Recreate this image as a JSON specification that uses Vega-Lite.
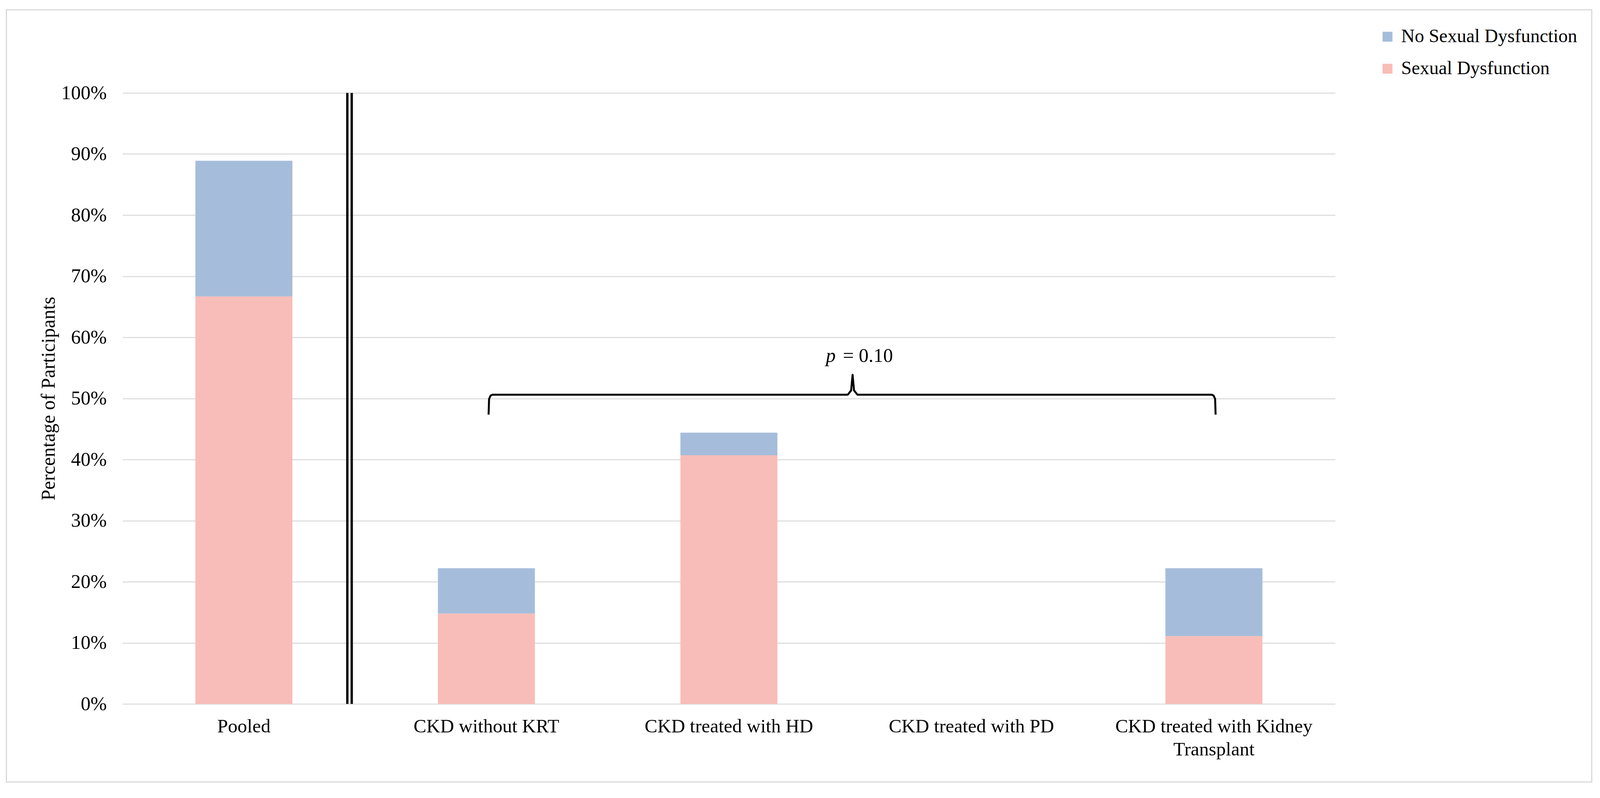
{
  "$schema": "https://vega.github.io/schema/vega-lite/v6.json",
  "width": 3104,
  "height": 1565,
  "autosize": {"type": "none"},
  "padding": {"left": 314, "top": 238, "right": 678, "bottom": 241},
  "background": "white",
  "config": {
    "view": {"stroke": null},
    "font": "Liberation Serif",
    "axis": {"labelFont": "Liberation Serif", "titleFont": "Liberation Serif", "labelColor": "black", "titleColor": "black", "labelLimit": 0},
    "legend": {"labelFont": "Liberation Serif", "labelColor": "black", "labelLimit": 0}
  },
  "datasets": {
    "bars": [
      {"group": "Pooled", "status": "Sexual Dysfunction", "ord": 1, "pct": 66.7},
      {"group": "Pooled", "status": "No Sexual Dysfunction", "ord": 2, "pct": 22.2},
      {"group": "CKD without KRT", "status": "Sexual Dysfunction", "ord": 1, "pct": 14.8},
      {"group": "CKD without KRT", "status": "No Sexual Dysfunction", "ord": 2, "pct": 7.4},
      {"group": "CKD treated with HD", "status": "Sexual Dysfunction", "ord": 1, "pct": 40.7},
      {"group": "CKD treated with HD", "status": "No Sexual Dysfunction", "ord": 2, "pct": 3.7},
      {"group": "CKD treated with PD", "status": "Sexual Dysfunction", "ord": 1, "pct": 0},
      {"group": "CKD treated with PD", "status": "No Sexual Dysfunction", "ord": 2, "pct": 0},
      {"group": "CKD treated with Kidney Transplant", "status": "Sexual Dysfunction", "ord": 1, "pct": 11.1},
      {"group": "CKD treated with Kidney Transplant", "status": "No Sexual Dysfunction", "ord": 2, "pct": 11.1}
    ],
    "frame": [{"fx": -0.4794, "fx2": 6.058, "fy": 113.61, "fy2": -12.78}],
    "divider": [{"pos": 0.9265}, {"pos": 0.9446}],
    "brace": [
      {"i": 1, "bx": 1.509, "by": 47.35},
      {"i": 2, "bx": 1.511, "by": 49.9},
      {"i": 3, "bx": 1.517, "by": 50.45},
      {"i": 4, "bx": 1.525, "by": 50.61},
      {"i": 5, "bx": 2.99, "by": 50.61},
      {"i": 6, "bx": 3.004, "by": 51.3},
      {"i": 7, "bx": 3.010, "by": 53.87},
      {"i": 8, "bx": 3.016, "by": 51.3},
      {"i": 9, "bx": 3.030, "by": 50.61},
      {"i": 10, "bx": 4.491, "by": 50.61},
      {"i": 11, "bx": 4.499, "by": 50.45},
      {"i": 12, "bx": 4.505, "by": 49.9},
      {"i": 13, "bx": 4.507, "by": 47.35}
    ],
    "ptextItalic": [{"tx": 2.900, "ty": 55.97, "txt": "p"}],
    "ptextRoman": [{"tx": 2.970, "ty": 55.97, "txt": "= 0.10"}]
  },
  "layer": [
    {
      "data": {"name": "bars"},
      "mark": {"type": "bar"},
      "encoding": {
        "x": {
          "field": "group", "type": "nominal", "sort": null,
          "scale": {"paddingInner": 0.6, "paddingOuter": 0.3},
          "axis": {
            "title": null, "labelAngle": 0, "labelFontSize": 49, "labelPadding": 33,
            "ticks": false, "domain": false, "labelLineHeight": 59,
            "labelExpr": "datum.value == 'CKD treated with Kidney Transplant' ? ['CKD treated with Kidney', 'Transplant'] : datum.value"
          }
        },
        "y": {
          "field": "pct", "type": "quantitative", "stack": "zero",
          "scale": {"domain": [0, 100], "nice": false},
          "axis": {
            "title": "Percentage of Participants", "titleFontSize": 50, "titleFontWeight": "normal",
            "titleBaseline": "middle", "titleX": -190,
            "labelFontSize": 50, "labelPadding": 41,
            "values": [0, 10, 20, 30, 40, 50, 60, 70, 80, 90, 100],
            "labelExpr": "datum.value + '%'",
            "grid": true, "gridColor": "#d9d9d9", "gridWidth": 2.5,
            "ticks": false, "domain": false
          }
        },
        "color": {
          "field": "status", "type": "nominal",
          "scale": {"domain": ["No Sexual Dysfunction", "Sexual Dysfunction"], "range": ["#a5bddb", "#f8bdb8"]},
          "legend": {
            "title": null, "orient": "none", "legendX": 3214, "legendY": -168,
            "symbolType": "square", "symbolSize": 640, "labelFontSize": 48,
            "labelOffset": 11, "rowPadding": 34, "padding": 0, "symbolStrokeWidth": 0
          }
        },
        "order": {"field": "ord", "type": "quantitative"}
      }
    },
    {
      "data": {"name": "divider"},
      "mark": {"type": "rule", "color": "black", "strokeWidth": 6},
      "encoding": {
        "x": {"field": "pos", "type": "quantitative", "scale": {"domain": [0, 5], "nice": false, "zero": false}, "axis": null},
        "y": {"datum": 0},
        "y2": {"datum": 100}
      }
    },
    {
      "data": {"name": "brace"},
      "mark": {"type": "line", "color": "black", "strokeWidth": 5, "strokeJoin": "round"},
      "encoding": {
        "x": {"field": "bx", "type": "quantitative", "scale": {"domain": [0, 5], "nice": false, "zero": false}, "axis": null},
        "y": {"field": "by", "type": "quantitative"},
        "order": {"field": "i", "type": "quantitative"}
      }
    },
    {
      "data": {"name": "ptextItalic"},
      "mark": {"type": "text", "align": "left", "baseline": "alphabetic", "fontSize": 50, "font": "Liberation Serif", "fontStyle": "italic", "color": "black"},
      "encoding": {
        "x": {"field": "tx", "type": "quantitative", "scale": {"domain": [0, 5], "nice": false, "zero": false}, "axis": null},
        "y": {"field": "ty", "type": "quantitative"},
        "text": {"field": "txt"}
      }
    },
    {
      "data": {"name": "ptextRoman"},
      "mark": {"type": "text", "align": "left", "baseline": "alphabetic", "fontSize": 50, "font": "Liberation Serif", "fontStyle": "normal", "color": "black"},
      "encoding": {
        "x": {"field": "tx", "type": "quantitative", "scale": {"domain": [0, 5], "nice": false, "zero": false}, "axis": null},
        "y": {"field": "ty", "type": "quantitative"},
        "text": {"field": "txt"}
      }
    },
    {
      "data": {"name": "frame"},
      "mark": {"type": "rect", "fill": null, "filled": false, "stroke": "#d9d9d9", "strokeWidth": 3, "clip": false},
      "encoding": {
        "x": {"field": "fx", "type": "quantitative", "scale": {"domain": [0, 5], "nice": false, "zero": false}, "axis": null},
        "x2": {"field": "fx2"},
        "y": {"field": "fy", "type": "quantitative"},
        "y2": {"field": "fy2"}
      }
    }
  ],
  "resolve": {"scale": {"x": "independent"}}
}
